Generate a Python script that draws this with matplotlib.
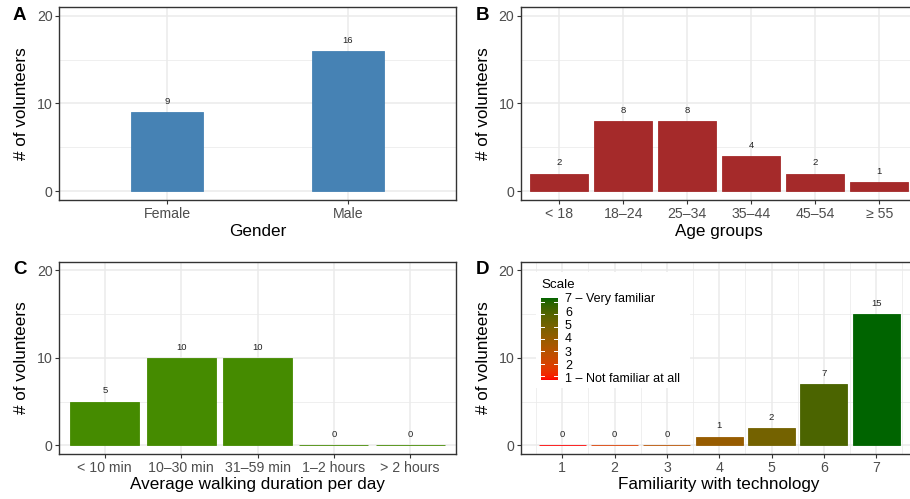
import numpy as np
import matplotlib
matplotlib.use('Agg')
import matplotlib.pyplot as plt
from matplotlib.colors import LinearSegmentedColormap
from matplotlib.patches import Rectangle

plt.rcParams['font.family'] = ['Liberation Sans', 'DejaVu Sans']

# data
gender_labels = ['Female', 'Male']
gender_counts = [9, 16]
age_labels = ['< 18', '18–24', '25–34', '35–44', '45–54', '≥ 55']
age_counts = [2, 8, 8, 4, 2, 1]
walk_labels = ['< 10 min', '10–30 min', '31–59 min', '1–2 hours', '> 2 hours']
walk_counts = [5, 10, 10, 0, 0]
fam_levels = [1, 2, 3, 4, 5, 6, 7]
fam_counts = [0, 0, 0, 1, 2, 7, 15]
scale_labels = ['1 – Not familiar at all', '2', '3', '4', '5', '6', '7 – Very familiar']

GRID = '#EBEBEB'
DARK = '#333333'
TICKC = '#4D4D4D'

# lab interpolation like ggplot gradients
M = np.array([[0.4124, 0.3576, 0.1805], [0.2126, 0.7152, 0.0722], [0.0193, 0.1192, 0.9505]])
WHITE = np.array([0.95047, 1.0, 1.08883])
D = 6 / 29


def to_lab(hexc):
    c = np.array([int(hexc[i:i + 2], 16) / 255 for i in (1, 3, 5)])
    lin = np.where(c <= 0.04045, c / 12.92, ((c + 0.055) / 1.055) ** 2.4)
    xyz = M @ lin / WHITE
    f = np.where(xyz > D ** 3, np.cbrt(xyz), xyz / (3 * D * D) + 4 / 29)
    return np.array([116 * f[1] - 16, 500 * (f[0] - f[1]), 200 * (f[1] - f[2])])


def from_lab(lab):
    fy = (lab[0] + 16) / 116
    f = np.array([fy + lab[1] / 500, fy, fy - lab[2] / 200])
    xyz = np.where(f > D, f ** 3, 3 * D * D * (f - 4 / 29)) * WHITE
    lin = np.linalg.solve(M, xyz)
    lin = np.clip(lin, 0, 1)
    c = np.where(lin <= 0.0031308, 12.92 * lin, 1.055 * lin ** (1 / 2.4) - 0.055)
    return tuple(np.clip(c, 0, 1))


lo, hi = to_lab('#FF0000'), to_lab('#006400')
grad = [from_lab(lo + (hi - lo) * t) for t in np.linspace(0, 1, 256)]
cmap = LinearSegmentedColormap.from_list('fam', grad)
fam_colors = [cmap((v - 1) / 6) for v in fam_levels]

fig = plt.figure(figsize=(9.10, 4.99), dpi=100)
W = 397 / 910
top_row = [0.5992, 0.986 - 0.5992]
bot_row = [0.0902, 0.4756 - 0.0902]
axA = fig.add_axes([59 / 910, top_row[0], W, top_row[1]])
axB = fig.add_axes([520.7 / 910, top_row[0], W, top_row[1]])
axC = fig.add_axes([59 / 910, bot_row[0], W, bot_row[1]])
axD = fig.add_axes([520.7 / 910, bot_row[0], W, bot_row[1]])


def style(ax, xlabel, xlim, vgrid_major, vgrid_minor=()):
    ax.set_ylim(-1, 21)
    ax.set_xlim(*xlim)
    ax.set_yticks([0, 10, 20])
    for y in [5, 15]:
        ax.axhline(y, color=GRID, lw=0.55, zorder=0)
    for y in [0, 10, 20]:
        ax.axhline(y, color=GRID, lw=1.1, zorder=0)
    for x in vgrid_minor:
        ax.axvline(x, color=GRID, lw=0.55, zorder=0)
    for x in vgrid_major:
        ax.axvline(x, color=GRID, lw=1.1, zorder=0)
    for s in ax.spines.values():
        s.set_color(DARK)
        s.set_linewidth(1.0)
    ax.tick_params(colors=DARK, labelcolor=TICKC, labelsize=10.2, length=2.7, width=0.8, pad=2)
    ax.set_ylabel('# of volunteers', fontsize=12.3)
    ax.set_xlabel(xlabel, fontsize=12.3)
    ax.yaxis.set_label_coords(-0.076, 0.5)
    ax.xaxis.set_label_coords(0.5, -0.122)


def bars(ax, x, counts, width, colors):
    ax.bar(x, counts, width=width, color=colors, edgecolor=colors, linewidth=0.6, zorder=2)
    for xi, c in zip(x, counts):
        ax.annotate(str(c), (xi, c), xytext=(0, 4.5), textcoords='offset points',
                    ha='center', va='bottom', fontsize=6.8, color='#222222')


# A
xa = np.arange(1, len(gender_labels) + 1)
bars(axA, xa, gender_counts, 0.4, '#4682B4')
style(axA, 'Gender', (0.4, len(xa) + 0.6), xa)
axA.set_xticks(xa, gender_labels)

# B
xb = np.arange(1, len(age_labels) + 1)
bars(axB, xb, age_counts, 0.9, '#A52A2A')
style(axB, 'Age groups', (0.4, len(xb) + 0.6), xb)
axB.set_xticks(xb, age_labels)

# C
xc = np.arange(1, len(walk_labels) + 1)
bars(axC, xc, walk_counts, 0.9, '#458B00')
style(axC, 'Average walking duration per day', (0.4, len(xc) + 0.6), xc)
axC.set_xticks(xc, walk_labels)

# D
bars(axD, fam_levels, fam_counts, 0.9, fam_colors)
style(axD, 'Familiarity with technology', (0.205, 7.795), fam_levels,
      [v - 0.5 for v in fam_levels] + [7.5])
axD.set_xticks(fam_levels, [str(v) for v in fam_levels])

# legend for D
legbg = Rectangle((536 / 910, (499 - 388) / 499), (690 - 536) / 910, (388 - 272) / 499,
                  transform=fig.transFigure, facecolor='white', edgecolor='none', zorder=1)
fig.patches.append(legbg)
fig.text(541.5 / 910, 1 - 285 / 499, 'Scale', fontsize=9.6, va='center', ha='left', zorder=3)
cax = fig.add_axes([541 / 910, 1 - 380 / 499, 16.7 / 910, 82 / 499], zorder=3)
cax.imshow(np.linspace(0, 1, 256)[:, None], cmap=cmap, aspect='auto', origin='lower',
           extent=(0, 1, 0.7, 7.3))
cax.set_xlim(0, 1)
cax.set_ylim(0.7, 7.3)
for v in fam_levels:
    cax.plot([0, 0.2], [v, v], color='white', lw=0.7)
    cax.plot([0.8, 1], [v, v], color='white', lw=0.7)
cax.axis('off')
for v, lab in zip(fam_levels, scale_labels):
    y = 379.3 - (v - 1) * (379.3 - 299.3) / 6
    fig.text(565 / 910, 1 - y / 499, lab, fontsize=9.0, va='center', ha='left', zorder=3)

# panel letters
for lx, ly, letter in [(13, 16, 'A'), (476, 16, 'B'), (13, 270, 'C'), (476, 270, 'D')]:
    fig.text(lx / 910, 1 - ly / 499, letter, fontsize=13.5, fontweight='bold', va='center', ha='left')

fig.savefig('out.png', dpi=100)
